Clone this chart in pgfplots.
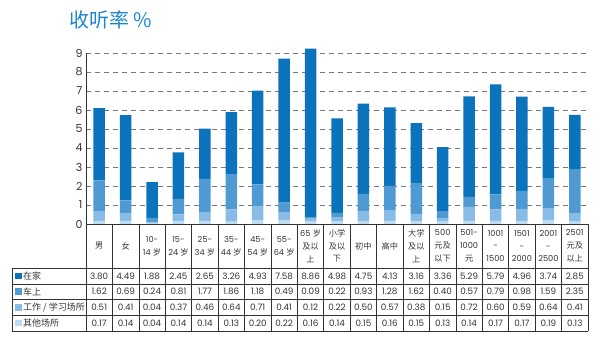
\documentclass[border=0pt]{standalone}
\usepackage{pgfplots}
\pgfplotsset{compat=1.18}
\usepackage{pgfplotstable}
\usepackage{fontspec}
\setmainfont{Poppins}
\newfontfamily\cjk{Noto Sans CJK SC}
\newcommand\zh[1]{{\cjk #1}}
\definecolor{cHome}{HTML}{0B72BC}
\definecolor{cCar}{HTML}{4F9AD2}
\definecolor{cWork}{HTML}{88BCE6}
\definecolor{cOther}{HTML}{BCDCF2}
\definecolor{txt}{HTML}{333333}
\definecolor{ttl}{HTML}{1E86CF}
\pgfplotstableread{
x home car work other
0 3.80 1.62 0.51 0.17
1 4.49 0.69 0.41 0.14
2 1.88 0.24 0.04 0.04
3 2.45 0.81 0.37 0.14
4 2.65 1.77 0.46 0.14
5 3.26 1.86 0.64 0.13
6 4.93 1.18 0.71 0.20
7 7.58 0.49 0.41 0.22
8 8.86 0.09 0.12 0.16
9 4.98 0.22 0.22 0.14
10 4.75 0.93 0.50 0.15
11 4.13 1.28 0.57 0.16
12 3.16 1.62 0.38 0.15
13 3.36 0.40 0.15 0.13
14 5.29 0.57 0.72 0.14
15 5.79 0.79 0.60 0.17
16 4.96 0.98 0.59 0.17
17 3.74 1.59 0.64 0.19
18 2.85 2.35 0.41 0.13
}\data
\begin{document}
\begin{tikzpicture}[x=1pt,y=1pt]
\useasboundingbox (0,0) rectangle (600,347);
\node[anchor=west, text=ttl, font=\cjk\fontsize{20}{22}\selectfont] at (66,327) {收听率 \%};
\begin{axis}[at={(86pt,123pt)}, anchor=south west, scale only axis,
  width=502pt, height=176.7pt,
  xmin=-0.5, xmax=18.5, ymin=0, ymax=9.3,
  axis line style={draw=none},
  xtick=\empty, ytick={0,1,...,9}, major tick length=0pt,
  ymajorgrids, grid style={gray!95!black, line width=0.6pt, dash pattern=on 5pt off 4pt},
  yticklabel style={font=\fontsize{11}{12}\selectfont, text=txt},
  /pgf/number format/assume math mode=true,
  ybar stacked, bar width=11.5pt, clip=false]
\addplot[fill=cOther, draw=none] table[x=x, y=other]{\data};
\addplot[fill=cWork, draw=none] table[x=x, y=work]{\data};
\addplot[fill=cCar, draw=none] table[x=x, y=car]{\data};
\addplot[fill=cHome, draw=none] table[x=x, y=home]{\data};
\end{axis}
\def\cw{26.4211}
% axis lines
\draw[txt, line width=0.8pt] (86,123) -- (86,294);
\draw[txt, line width=0.8pt] (86,123) -- (588,123);
% table grid
\foreach \i in {0,...,19} {\draw[txt, line width=0.6pt] ({86+\cw*\i},123) -- ({86+\cw*\i},16);}
\draw[txt, line width=0.6pt] (12,79) -- (12,16);
\foreach \yy in {79,63,47.5,32,16} {\draw[txt, line width=0.6pt] (12,\yy) -- (588,\yy);}
% headers
\foreach \lab [count=\i from 0] in {{\zh{男}},{\zh{女}},{10-\\14 \zh{岁}},{15-\\24 \zh{岁}},{25-\\34 \zh{岁}},{35-\\44 \zh{岁}},{45-\\54 \zh{岁}},{55-\\64 \zh{岁}},{65 \zh{岁}\\\zh{及以}\\\zh{上}},{\zh{小学}\\\zh{及以}\\\zh{下}},{\zh{初中}},{\zh{高中}},{\zh{大学}\\\zh{及以}\\\zh{上}},{500\\\zh{元及}\\\zh{以下}},{501-\\1000\\\zh{元}},{1001\\-\\1500},{1501\\-\\2000},{2001\\-\\2500},{2501\\\zh{元及}\\\zh{以上}}}
 {\node[align=center, text=txt, font=\fontsize{8.2}{12.8}\selectfont, inner sep=0pt] at ({86+\cw*(\i+0.5)},101) {\lab};}
% legend cells
\foreach \nm/\col/\yy in {{在家}/cHome/71, {车上}/cCar/55.25, {工作 / 学习场所}/cWork/39.75, {其他场所}/cOther/24} {
  \fill[\col] (15,\yy-3.4) rectangle (21.8,\yy+3.4);
  \node[anchor=west, text=txt, font=\cjk\fontsize{9}{10}\selectfont, inner sep=0pt] at (23,\yy) {\nm};
}
% numbers
\foreach \col/\yy in {home/71, car/55.25, work/39.75, other/24} {
  \foreach \i in {0,...,18} {
    \pgfplotstablegetelem{\i}{\col}\of\data
    \node[text=txt, font=\fontsize{8.8}{10}\selectfont, inner sep=0pt] at ({86+\cw*(\i+0.5)},\yy) {\pgfplotsretval};
  }
}
\end{tikzpicture}
\end{document}
